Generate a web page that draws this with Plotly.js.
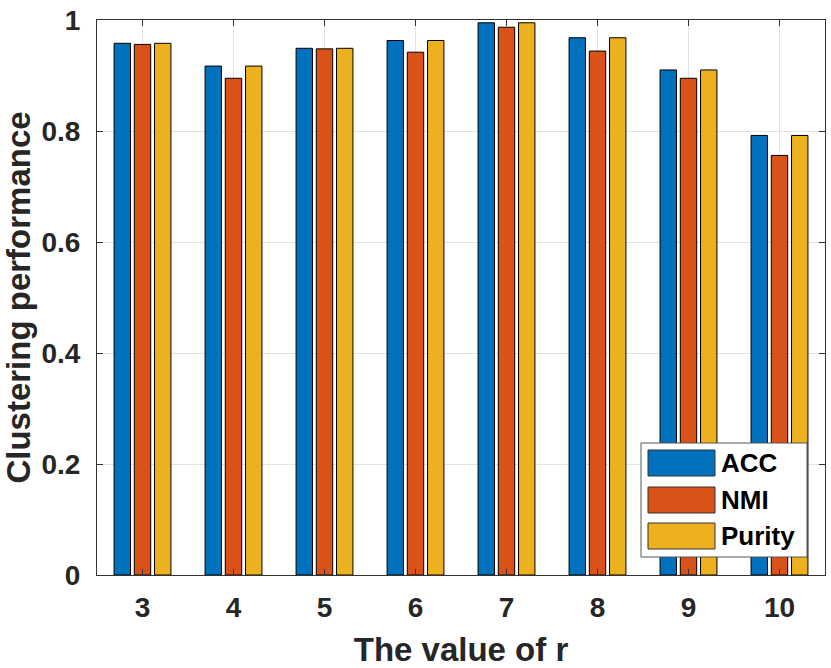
<!DOCTYPE html>
<html>
<head>
<meta charset="utf-8">
<script src="https://cdn.plot.ly/plotly-3.0.1.min.js"></script>
<style>
  html, body { margin: 0; padding: 0; background: #fff; }
  #chart { width: 831px; height: 668px; }
</style>
</head>
<body>
<div id="chart"></div>
<script>
// values of r on the x axis
const rValues = [3, 4, 5, 6, 7, 8, 9, 10];

// clustering scores per metric
const accValues    = [0.958, 0.917, 0.949, 0.963, 0.995, 0.968, 0.910, 0.792];
const nmiValues    = [0.956, 0.895, 0.948, 0.942, 0.987, 0.944, 0.895, 0.756];
const purityValues = [0.958, 0.917, 0.949, 0.963, 0.995, 0.968, 0.910, 0.792];

const seriesNames = ['ACC', 'NMI', 'Purity'];
const yTicks = [0, 0.2, 0.4, 0.6, 0.8, 1];
const yTickText = ['0', '0.2', '0.4', '0.6', '0.8', '1'];

const colors = ['#0072BD', '#D95319', '#EDB120'];
const font = '"Liberation Sans", Arial, Helvetica, sans-serif';
const textColor = '#262626';

const traces = [accValues, nmiValues, purityValues].map((vals, i) => ({
    type: 'bar',
    x: rValues,
    y: vals,
    name: seriesNames[i],
    marker: { color: colors[i], line: { color: '#000', width: 1 } },
    hoverinfo: 'x+y+name'
}));

// plot area in pixels, used to place the hand-made legend
const W = 831, H = 668;
const margin = { l: 97, r: 6, t: 20, b: 93 };
const plotW = W - margin.l - margin.r;
const plotH = H - margin.t - margin.b;
const px = x => (x - margin.l) / plotW;
const py = y => (H - margin.b - y) / plotH;

// MATLAB-style legend: wide swatches inside a boxed area
const shapes = [{
    type: 'rect', xref: 'paper', yref: 'paper',
    x0: px(641), x1: px(807), y0: py(557), y1: py(443),
    fillcolor: '#fff', line: { color: '#555', width: 1 }
}];
const annotations = [];
const rowTop = [450, 487, 523];
seriesNames.forEach((name, i) => {
    shapes.push({
        type: 'rect', xref: 'paper', yref: 'paper',
        x0: px(648), x1: px(715), y0: py(rowTop[i] + 26), y1: py(rowTop[i]),
        fillcolor: colors[i], line: { color: '#333', width: 1 }
    });
    annotations.push({
        xref: 'paper', yref: 'paper',
        x: px(719), y: py(rowTop[i] + 13),
        xanchor: 'left', yanchor: 'middle',
        text: '<b>' + name + '</b>', showarrow: false,
        font: { family: font, size: 26, color: '#000' }
    });
});

const layout = {
    width: W,
    height: H,
    margin: margin,
    paper_bgcolor: '#fff',
    plot_bgcolor: '#fff',
    barmode: 'group',
    bargap: 0.333,
    bargroupgap: 0.19,
    showlegend: false,
    font: { family: font, color: textColor },
    xaxis: {
        range: [2.5, 10.5],
        tickvals: rValues,
        ticktext: rValues.map(v => '<b>' + v + '</b>'),
        tickfont: { family: font, size: 28, color: textColor },
        ticks: 'inside', ticklen: 6, tickcolor: '#333',
        ticklabelstandoff: 7,
        showline: true, linecolor: '#333', linewidth: 1, mirror: 'allticks',
        showgrid: true, gridcolor: '#e3e3e3', gridwidth: 1,
        zeroline: false,
        title: {
            text: '<b>The value of r</b>',
            font: { family: font, size: 33, color: textColor },
            standoff: 16
        }
    },
    yaxis: {
        range: [0, 1],
        tickvals: yTicks,
        ticktext: yTickText.map(t => '<b>' + t + '</b>'),
        tickfont: { family: font, size: 28, color: textColor },
        ticks: 'inside', ticklen: 6, tickcolor: '#333',
        ticklabelstandoff: 10,
        showline: true, linecolor: '#333', linewidth: 1, mirror: 'allticks',
        showgrid: true, gridcolor: '#e3e3e3', gridwidth: 1,
        zeroline: false,
        title: {
            text: '<b>Clustering performance</b>',
            font: { family: font, size: 33, color: textColor },
            standoff: 12
        }
    },
    shapes: shapes,
    annotations: annotations
};

Plotly.newPlot('chart', traces, layout, { displayModeBar: false, staticPlot: true });
</script>
</body>
</html>
